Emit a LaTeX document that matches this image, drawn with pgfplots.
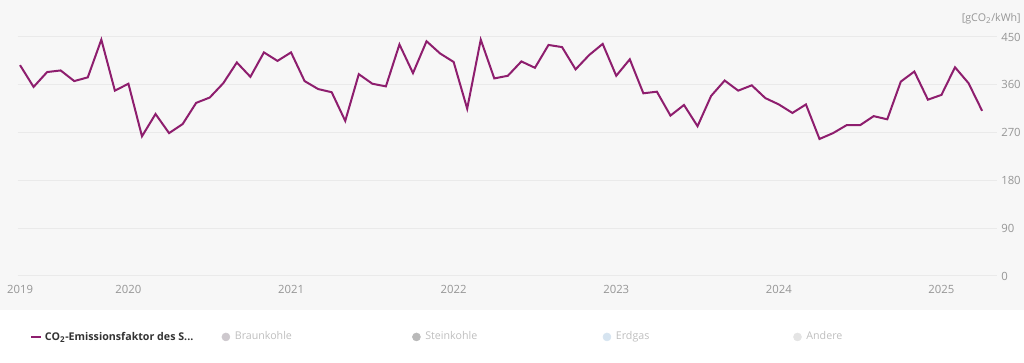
\documentclass[border=0pt]{standalone}
\usepackage{fontspec}
\setmainfont{Open Sans}
\usepackage{pgfplots}
\pgfplotsset{compat=1.18}
\definecolor{co2}{RGB}{142,30,110}
\definecolor{bggray}{RGB}{247,247,247}
\definecolor{gridgray}{RGB}{234,234,234}
\definecolor{ticktext}{RGB}{150,150,150}
\definecolor{legtext}{RGB}{190,190,190}
\definecolor{braun}{RGB}{205,200,205}
\definecolor{stein}{RGB}{185,185,185}
\definecolor{erdgas}{RGB}{214,228,240}
\definecolor{andere}{RGB}{228,228,228}

\pgfplotsset{
  shortline/.style={legend image code/.code={\draw[co2, line width=1.5pt] (0pt,0pt) -- (7.5pt,0pt);}},
  dotbraun/.style={legend image code/.code={\fill[braun] (3.5pt,0pt) circle (3pt);}},
  dotstein/.style={legend image code/.code={\fill[stein] (3.5pt,0pt) circle (3pt);}},
  doterdgas/.style={legend image code/.code={\fill[erdgas] (3.5pt,0pt) circle (3pt);}},
  dotandere/.style={legend image code/.code={\fill[andere] (3.5pt,0pt) circle (3pt);}},
}

\pgfplotstableread{
x y
0 397
1 356
2 384
3 387
4 367
5 374
6 445
7 349
8 362
9 263
10 305
11 269
12 286
13 326
14 336
15 363
16 402
17 375
18 421
19 405
20 421
21 367
22 352
23 346
24 292
25 380
26 362
27 357
28 436
29 382
30 442
31 419
32 403
33 315
34 445
35 372
36 377
37 404
38 392
39 435
40 431
41 389
42 416
43 437
44 377
45 408
46 344
47 347
48 302
49 322
50 282
51 339
52 368
53 349
54 359
55 335
56 323
57 307
58 323
59 258
60 269
61 284
62 284
63 301
64 295
65 366
66 385
67 332
68 341
69 393
70 363
71 311
}\co

\begin{document}
\begin{tikzpicture}
\useasboundingbox (0pt,0pt) rectangle (768pt,272.25pt);
\fill[bggray] (0pt,39.75pt) rectangle (768pt,272.25pt);
\begin{axis}[
  at={(13.5pt,65.25pt)}, anchor=south west,
  scale only axis, width=734.25pt, height=179.25pt,
  xmin=-0.15, xmax=72.1, ymin=0, ymax=450,
  axis line style={draw=none},
  tick style={draw=none},
  ymajorgrids, grid style={gridgray, line width=0.75pt},
  ytick={0,90,180,270,360,450},
  yticklabel pos=right,
  /pgf/number format/assume math mode=true,
  yticklabel style={anchor=west, inner sep=0pt, xshift=3pt, font=\fontsize{8.5}{10}\selectfont, text=ticktext},
  xtick={0,8,20,32,44,56,68},
  xticklabels={2019,2020,2021,2022,2023,2024,2025},
  xticklabel style={anchor=north, inner sep=0pt, yshift=-7pt, font=\fontsize{8.5}{10}\selectfont, text=ticktext},
  legend columns=5,
  legend style={at={(0.0123,-0.255)}, anchor=west, draw=none, fill=none, inner sep=0pt,
    font=\fontsize{8}{10}\selectfont, text=legtext,
    /tikz/every even column/.style={column sep=0pt}},
  legend cell align=left,
]
\addplot[co2, line width=1.5pt, forget plot] table[x=x,y=y] {\co};
\addlegendimage{shortline}
\addlegendentry{\makebox[130.5pt][l]{\color{black!80}\bfseries CO\textsubscript{2}-Emissionsfaktor des S...}}
\addlegendimage{dotbraun}
\addlegendentry{\makebox[132.5pt][l]{\hspace*{1.5pt}Braunkohle}}
\addlegendimage{dotstein}
\addlegendentry{\makebox[132.5pt][l]{\hspace*{1.5pt}Steinkohle}}
\addlegendimage{doterdgas}
\addlegendentry{\makebox[132.5pt][l]{\hspace*{1.5pt}Erdgas}}
\addlegendimage{dotandere}
\addlegendentry{\makebox[40pt][l]{\hspace*{1.5pt}Andere}}
\end{axis}
\node[anchor=east, inner sep=0pt, text=ticktext, font=\fontsize{8}{10}\selectfont] at (765.75pt,258pt) {[gCO\textsubscript{2}/kWh]};
\end{tikzpicture}
\end{document}
